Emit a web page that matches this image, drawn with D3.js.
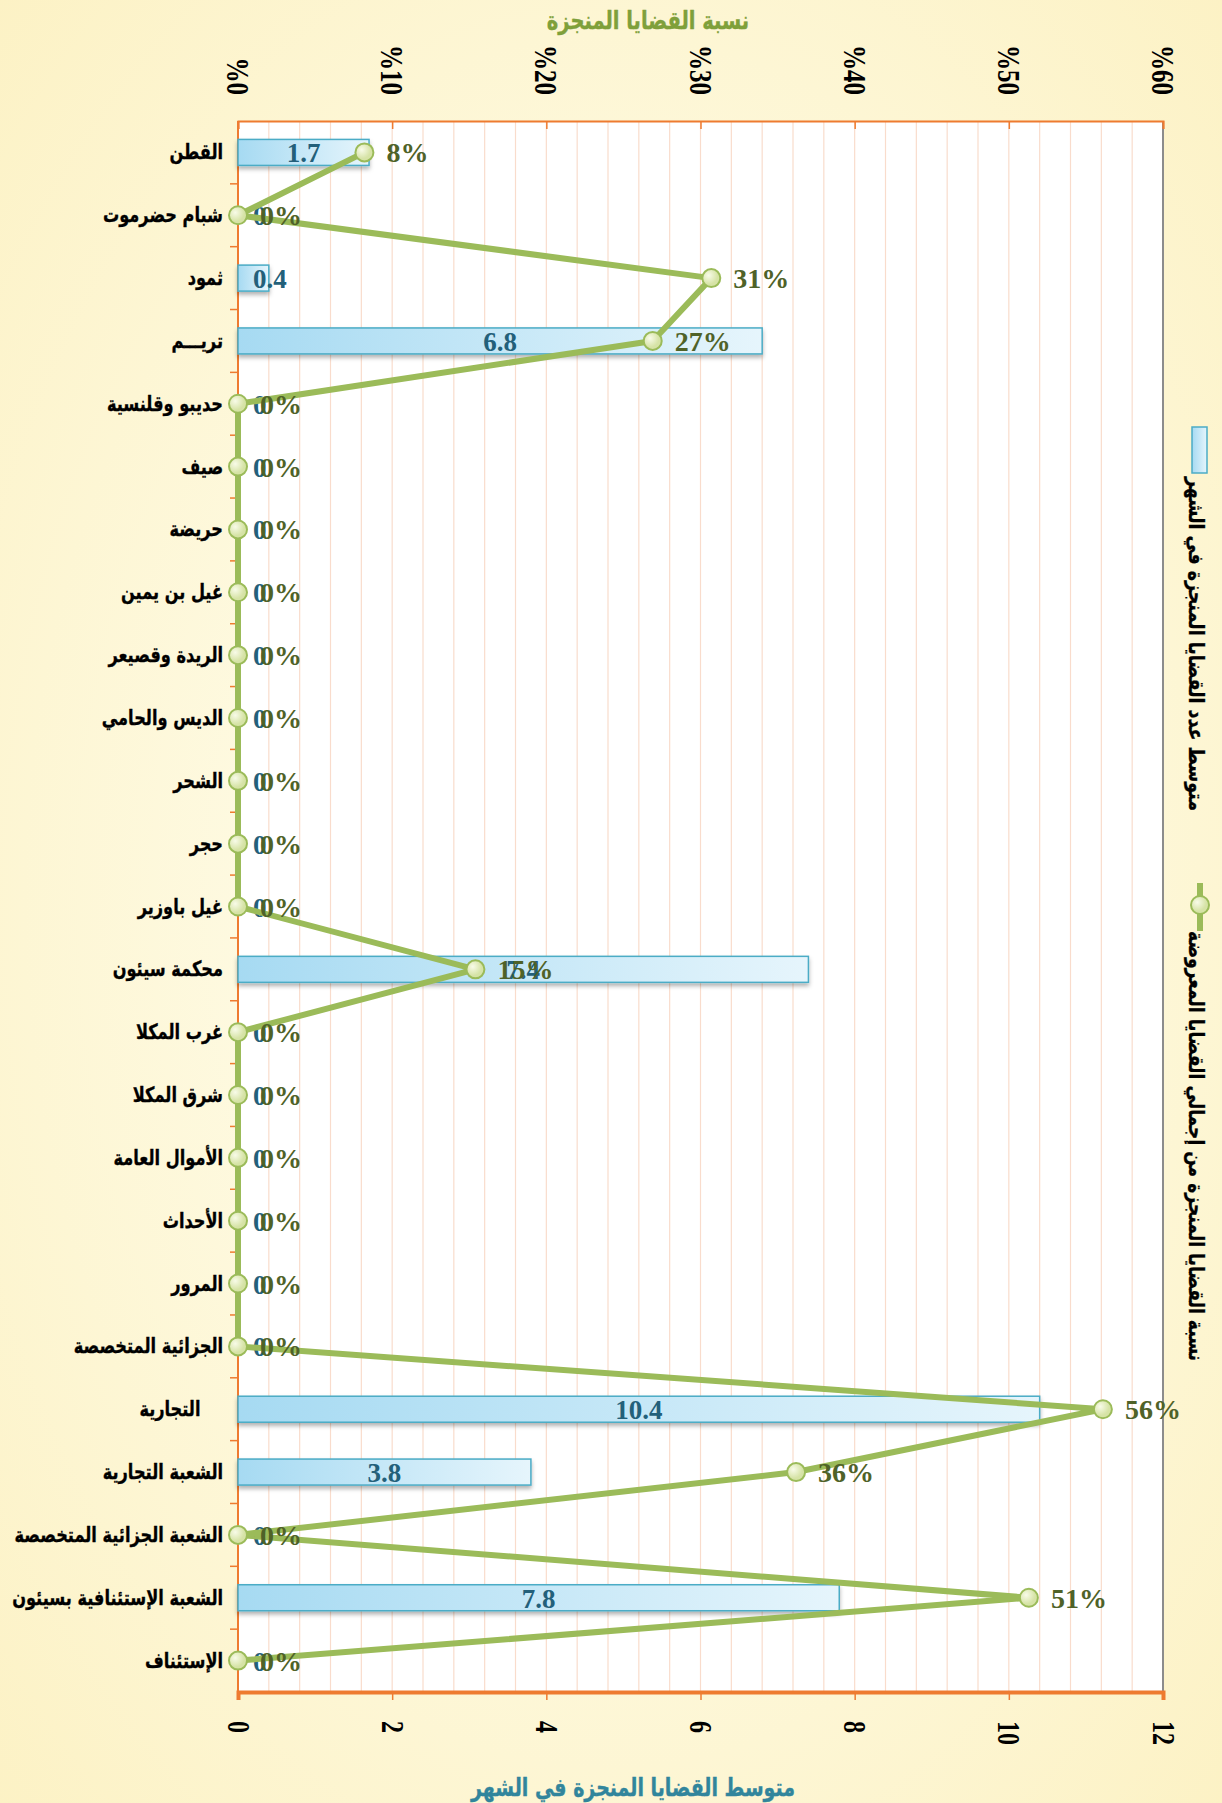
<!DOCTYPE html>
<html lang="ar">

<head>
    <meta charset="UTF-8" />
    <title>Document</title>
    <script src="https://d3js.org/d3.v7.min.js"></script>
    <style>
        body { margin: 0; }
        text { white-space: pre; }
    </style>
</head>

<body>
    <svg id="svg" width="1222" height="1803"></svg>
</body>
<script>

// المحاكم
const categories = ['القطن', 'شبام حضرموت', 'ثمود', 'تريـــم', 'حديبو وقلنسية', 'صيف', 'حريضة', 'غيل بن يمين',
    'الريدة وقصيعر', 'الديس والحامي', 'الشحر', 'حجر', 'غيل باوزير', 'محكمة سيئون', 'غرب المكلا', 'شرق المكلا',
    'الأموال العامة', 'الأحداث', 'المرور', 'الجزائية المتخصصة', 'التجارية    ', 'الشعبة التجارية',
    'الشعبة الجزائية المتخصصة', 'الشعبة الإستئنافية بسيئون', 'الإستئناف']

// متوسط القضايا المنجزة في الشهر
const avgCases = [1.7, 0, 0.4, 6.8, 0, 0, 0, 0, 0, 0, 0, 0, 0, 7.4, 0, 0, 0, 0, 0, 0, 10.4, 3.8, 0, 7.8, 0]

// نسبة القضايا المنجزة من إجمالي القضايا المعروضة
const pctDone = [0.082, 0, 0.307, 0.269, 0, 0, 0, 0, 0, 0, 0, 0, 0, 0.154, 0, 0, 0, 0, 0, 0, 0.561, 0.362, 0, 0.513, 0]

const countTicks = [0, 2, 4, 6, 8, 10, 12]
const pctTicks = [0, 0.1, 0.2, 0.3, 0.4, 0.5, 0.6]

const seriesNames = ['متوسط عدد القضايا المنجزة في الشهر', 'نسبة القضايا المنجزة من إجمالي القضايا المعروضة']
const xTitle = 'متوسط القضايا المنجزة في الشهر'
const topTitle = 'نسبة القضايا المنجزة'

const pLeft = 238, pRight = 1163, pTop = 121, pBottom = 1692
const orange = '#ee7b30', green = '#9bbb59', teal = '#23607a', olive = '#4f6228'
const serif = '"Liberation Serif", "Times New Roman", serif'
const arabic = '"DejaVu Sans", sans-serif'

const svg = d3.select('#svg')
const defs = svg.append('defs')

// خلفية
const bg = defs.append('radialGradient').attr('id', 'bg').attr('cx', '50%').attr('cy', '50%').attr('r', '75%')
bg.append('stop').attr('offset', '0%').attr('stop-color', '#fffff4')
bg.append('stop').attr('offset', '100%').attr('stop-color', '#fcf1c2')

const barGrad = defs.append('linearGradient').attr('id', 'barGrad')
barGrad.append('stop').attr('offset', '0%').attr('stop-color', '#a6daf2')
barGrad.append('stop').attr('offset', '100%').attr('stop-color', '#e6f5fc')

const dotGrad = defs.append('radialGradient').attr('id', 'dotGrad').attr('cx', '35%').attr('cy', '35%')
dotGrad.append('stop').attr('offset', '0%').attr('stop-color', '#f8fbe8')
dotGrad.append('stop').attr('offset', '100%').attr('stop-color', '#d6e3a6')

const shadow = defs.append('filter').attr('id', 'shadow').attr('x', '-5%').attr('y', '-5%').attr('width', '110%').attr('height', '110%')
shadow.append('feDropShadow').attr('dx', 0).attr('dy', 3).attr('stdDeviation', 2).attr('flood-opacity', 0.3)

svg.append('rect').attr('width', 1222).attr('height', 1803).attr('fill', 'url(#bg)')
svg.append('rect').attr('x', pLeft).attr('y', pTop).attr('width', pRight - pLeft).attr('height', pBottom - pTop).attr('fill', '#fff')

// المقاييس
const x = d3.scaleLinear().domain([0, 12]).range([pLeft, pRight])
const xp = d3.scaleLinear().domain([0, 0.6]).range([pLeft, pRight])
const y = d3.scaleBand().domain(d3.range(categories.length)).range([pTop, pBottom])
const yc = i => y(i) + y.bandwidth() / 2

// خطوط الشبكة
svg.append('g').selectAll('line')
    .data(d3.range(0, 12.01, 0.4))
    .enter().append('line')
    .attr('x1', d => x(d)).attr('x2', d => x(d))
    .attr('y1', pTop).attr('y2', pBottom)
    .attr('stroke', '#f9dccc').attr('stroke-width', 1.2)

svg.append('line').attr('x1', pRight).attr('x2', pRight).attr('y1', pTop).attr('y2', pBottom)
    .attr('stroke', '#8c8c8c').attr('stroke-width', 2)

// المحور العلوي (النسبة)
const topAxis = svg.append('g').attr('transform', `translate(0,${pTop})`)
    .call(d3.axisTop(xp).tickValues(pctTicks).tickSize(-8).tickFormat(d => '%' + Math.round(d * 100)))
topAxis.select('.domain').attr('stroke', orange).attr('stroke-width', 2)
topAxis.selectAll('line').attr('stroke', orange).attr('stroke-width', 1.5)
topAxis.selectAll('text')
    .attr('transform', 'translate(0,-26) rotate(90) scale(1,1.3)')
    .attr('x', 0).attr('y', 0).attr('dy', '0.35em')
    .attr('text-anchor', 'end')
    .style('font', `bold 25px ${serif}`).attr('fill', '#000')

// المحور السفلي (المتوسط)
const bottomAxis = svg.append('g').attr('transform', `translate(0,${pBottom})`)
    .call(d3.axisBottom(x).tickValues(countTicks).tickSize(8))
bottomAxis.select('.domain').attr('stroke', orange).attr('stroke-width', 4)
bottomAxis.selectAll('line').attr('stroke', orange).attr('stroke-width', 1.5)
bottomAxis.selectAll('text')
    .attr('transform', 'translate(0,29) rotate(90) scale(1,1.3)')
    .attr('x', 0).attr('y', 0).attr('dy', '0.35em')
    .attr('text-anchor', 'start')
    .style('font', `bold 24px ${serif}`).attr('fill', '#000')

// المحور الأيسر
svg.append('line').attr('x1', pLeft).attr('x2', pLeft).attr('y1', pTop).attr('y2', pBottom)
    .attr('stroke', orange).attr('stroke-width', 2)
svg.append('g').selectAll('line')
    .data(d3.range(1, categories.length))
    .enter().append('line')
    .attr('x1', pLeft - 8).attr('x2', pLeft)
    .attr('y1', d => y(d)).attr('y2', d => y(d))
    .attr('stroke', orange).attr('stroke-width', 1.5)

// أسماء المحاكم (خط عريض مضغوط أفقياً)
svg.append('g').selectAll('text')
    .data(categories)
    .enter().append('text')
    .attr('transform', (d, i) => `translate(223,${yc(i) + 7}) scale(0.77,1)`)
    .attr('text-anchor', 'end')
    .style('font', `bold 21px ${arabic}`)
    .attr('stroke', '#000').attr('stroke-width', 0.35)
    .text(d => d)

// الأعمدة
const barH = 26
svg.append('g').attr('filter', 'url(#shadow)').selectAll('rect')
    .data(avgCases.map((v, i) => ({ v, i })).filter(d => d.v > 0))
    .enter().append('rect')
    .attr('x', pLeft)
    .attr('y', d => yc(d.i) - barH / 2)
    .attr('width', d => x(d.v) - pLeft)
    .attr('height', barH)
    .attr('fill', 'url(#barGrad)')
    .attr('stroke', '#4bacc6').attr('stroke-width', 1.5)

// تسميات الأعمدة
svg.append('g').selectAll('text')
    .data(avgCases)
    .enter().append('text')
    .attr('y', (d, i) => yc(i) + 10)
    .style('font', `bold 27px ${serif}`).attr('fill', teal)
    .text(d => d === 0 ? '0' : d.toFixed(1))
    .attr('x', function (d) {
        const w = this.getComputedTextLength()
        return Math.max((pLeft + x(d)) / 2 - w / 2, pLeft + 15)
    })

// خط النسبة
const line = d3.line().x(d => xp(d)).y((d, i) => yc(i))
svg.append('path').datum(pctDone)
    .attr('d', line)
    .attr('fill', 'none').attr('stroke', green).attr('stroke-width', 6)
    .attr('stroke-linejoin', 'round')

svg.append('g').selectAll('circle')
    .data(pctDone)
    .enter().append('circle')
    .attr('cx', d => xp(d)).attr('cy', (d, i) => yc(i)).attr('r', 9)
    .attr('fill', 'url(#dotGrad)').attr('stroke', green).attr('stroke-width', 2)

svg.append('g').selectAll('text')
    .data(pctDone)
    .enter().append('text')
    .attr('x', d => xp(d) + 22).attr('y', (d, i) => yc(i) + 10)
    .style('font', `bold 28px ${serif}`).attr('fill', olive)
    .text(d => Math.round(d * 100) + '%')

// عناوين المحاور
svg.append('text').attr('transform', 'translate(648,29) scale(0.78,1)').attr('text-anchor', 'middle')
    .style('font', `bold 25px ${arabic}`).attr('fill', '#7fa03a')
    .attr('stroke', '#7fa03a').attr('stroke-width', 0.4)
    .text(topTitle)
svg.append('text').attr('transform', 'translate(633,1796) scale(0.76,1)').attr('text-anchor', 'middle')
    .style('font', `bold 25px ${arabic}`).attr('fill', '#31859c')
    .attr('stroke', '#31859c').attr('stroke-width', 0.4)
    .text(xTitle)

// وسيلة الإيضاح
const legend = svg.append('g')
legend.append('rect').attr('x', 1192).attr('y', 427).attr('width', 15).attr('height', 46)
    .attr('fill', 'url(#barGrad)').attr('stroke', '#4bacc6').attr('stroke-width', 1.5)
legend.append('line').attr('x1', 1200).attr('x2', 1200).attr('y1', 883).attr('y2', 931)
    .attr('stroke', green).attr('stroke-width', 6)
legend.append('circle').attr('cx', 1200).attr('cy', 905).attr('r', 9)
    .attr('fill', 'url(#dotGrad)').attr('stroke', green).attr('stroke-width', 2)

const legendPos = [[644, 334], [1146, 430]]
legend.selectAll('text.lg')
    .data(seriesNames)
    .enter().append('text')
    .attr('class', 'lg')
    .attr('transform', (d, i) => `translate(1196,${legendPos[i][0]}) rotate(90)`)
    .attr('dy', '0.35em')
    .attr('text-anchor', 'middle')
    .attr('textLength', (d, i) => legendPos[i][1])
    .attr('lengthAdjust', 'spacingAndGlyphs')
    .style('font', `bold 21px ${arabic}`)
    .attr('stroke', '#000').attr('stroke-width', 0.3)
    .text(d => d)

</script>

</html>
